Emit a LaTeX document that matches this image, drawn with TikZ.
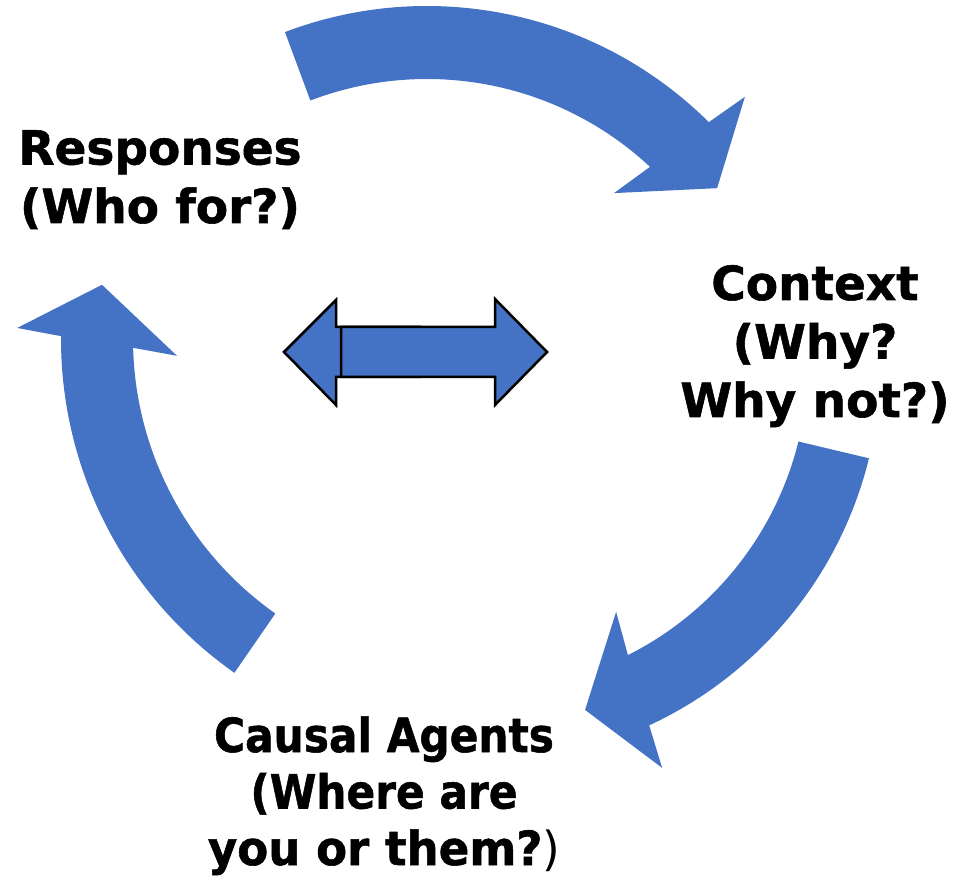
\documentclass[tikz,border=0pt]{standalone}
\usepackage{graphicx}
\usepackage{fontspec}
\setmainfont{DejaVu Sans}[BoldFeatures={FakeBold=1.2}]
\definecolor{arrowblue}{HTML}{4472C4}
\newcommand{\narrow}[2]{\scalebox{#1}[1]{#2}}
\begin{document}
\begin{tikzpicture}[x=1pt,y=1pt,
  band/.style={fill=arrowblue},
  twinarrow/.style={fill=arrowblue, draw=black, line width=2.5pt, line join=miter},
  lbl/.style={align=center, inner sep=0pt, anchor=base,
    font={\fontsize{47}{58.5}\selectfont\bfseries}}]
\useasboundingbox (0,0) rectangle (959,876);

% top curved arrow (Responses -> Context)
\begin{scope}[shift={(427,470)}]
  \fill[band] (110.8:400) arc[start angle=110.8, end angle=45.2, radius=400pt]
    -- (44.2:443.4) -- (36.9:362.8) -- (48.7:283.4)
    -- (47.0:327) arc[start angle=47.0, end angle=110.9, radius=327pt] -- cycle;
\end{scope}

% right curved arrow (Context -> Causal Agents)
\begin{scope}[shift={(481,513)}]
  \fill[band] (-13.8:399.5) arc[start angle=-13.8, end angle=-65.1, radius=399.5pt]
    -- (-65.9:443.6) -- (-73.3:362.2) -- (-61.5:283.2)
    -- (-63.3:327) arc[start angle=-63.3, end angle=-13.9, radius=327pt] -- cycle;
\end{scope}

% left curved arrow (Causal Agents -> Responses)
\begin{scope}[shift={(469,537)}]
  \fill[band] (234.9:408) arc[start angle=234.9, end angle=179.6, radius=408pt]
    -- (178.6:452) -- (171.6:371) -- (183.3:292.5)
    -- (181.5:336) arc[start angle=181.5, end angle=234.8, radius=336pt] -- cycle;
\end{scope}

% central double arrow: left-pointing part, then right-pointing part on top
\draw[twinarrow] (284,524) -- (336,576) -- (336,549) -- (420,549)
  -- (420,499) -- (336,499) -- (336,471) -- cycle;
\draw[twinarrow] (341,549) -- (495,549) -- (495,577) -- (547,524)
  -- (495,471) -- (495,499) -- (341,499) -- cycle;

% labels (anchored on the baseline of their last line)
\node[lbl] (responses) at (160,653) {Responses\\(Who for?)};
\node[lbl] (context) at (815,459) {Context\\(Why?\\Why not?)};
\node[lbl, font={\fontsize{47}{56.5}\selectfont\bfseries}] (agents) at (384,11)
  {\narrow{0.9}{Causal Agents}\\\narrow{0.9}{(Where are}\\\narrow{0.96}{you or them?{\mdseries )}}};
\end{tikzpicture}
\end{document}
